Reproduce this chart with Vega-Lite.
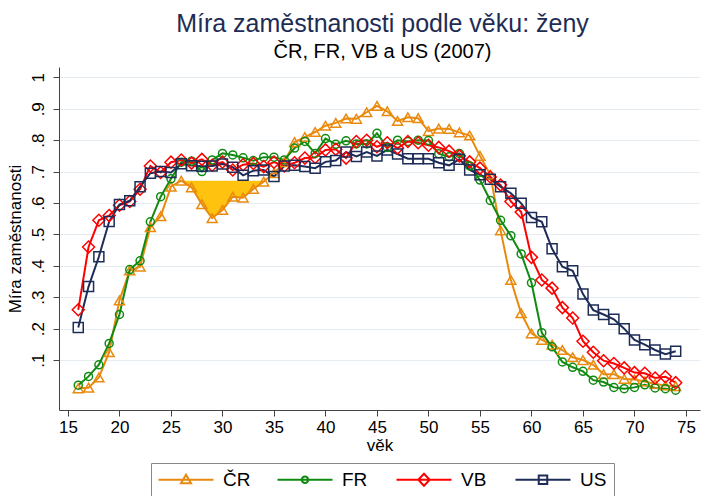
{
  "$schema": "https://vega.github.io/schema/vega-lite/v6.json",
  "width": 641,
  "height": 343,
  "autosize": {"type": "none"},
  "padding": {"left": 59, "top": 67, "right": 6, "bottom": 86},
  "background": "white",
  "config": {"font": "Liberation Sans", "view": {"stroke": null}, "axis": {"labelOverlap": false}},
  "title": {
    "text": "Míra zaměstnanosti podle věku: ženy",
    "subtitle": "ČR, FR, VB a US (2007)",
    "anchor": "middle",
    "font": "Liberation Sans",
    "fontSize": 25,
    "fontWeight": "normal",
    "color": "#1e2c55",
    "subtitleFont": "Liberation Sans",
    "subtitleFontSize": 20,
    "subtitleColor": "black",
    "subtitlePadding": 5,
    "offset": 5,
    "dx": 3
  },
  "datasets": {
    "emp": [
      {"age": 16, "ČR": 0.010, "FR": 0.020, "VB": 0.260, "US": 0.204},
      {"age": 17, "ČR": 0.012, "FR": 0.048, "VB": 0.460, "US": 0.334},
      {"age": 18, "ČR": 0.045, "FR": 0.085, "VB": 0.545, "US": 0.429},
      {"age": 19, "ČR": 0.125, "FR": 0.153, "VB": 0.560, "US": 0.541},
      {"age": 20, "ČR": 0.290, "FR": 0.245, "VB": 0.593, "US": 0.595},
      {"age": 21, "ČR": 0.385, "FR": 0.388, "VB": 0.605, "US": 0.607},
      {"age": 22, "ČR": 0.397, "FR": 0.416, "VB": 0.644, "US": 0.652},
      {"age": 23, "ČR": 0.523, "FR": 0.540, "VB": 0.718, "US": 0.695},
      {"age": 24, "ČR": 0.558, "FR": 0.620, "VB": 0.697, "US": 0.700},
      {"age": 25, "ČR": 0.652, "FR": 0.677, "VB": 0.730, "US": 0.697},
      {"age": 26, "ČR": 0.671, "FR": 0.730, "VB": 0.737, "US": 0.725},
      {"age": 27, "ČR": 0.650, "FR": 0.733, "VB": 0.727, "US": 0.719},
      {"age": 28, "ČR": 0.596, "FR": 0.700, "VB": 0.739, "US": 0.717},
      {"age": 29, "ČR": 0.552, "FR": 0.737, "VB": 0.720, "US": 0.718},
      {"age": 30, "ČR": 0.578, "FR": 0.758, "VB": 0.730, "US": 0.724},
      {"age": 31, "ČR": 0.620, "FR": 0.753, "VB": 0.705, "US": 0.714},
      {"age": 32, "ČR": 0.617, "FR": 0.744, "VB": 0.722, "US": 0.688},
      {"age": 33, "ČR": 0.645, "FR": 0.735, "VB": 0.726, "US": 0.703},
      {"age": 34, "ČR": 0.668, "FR": 0.746, "VB": 0.716, "US": 0.705},
      {"age": 35, "ČR": 0.695, "FR": 0.746, "VB": 0.730, "US": 0.684},
      {"age": 36, "ČR": 0.730, "FR": 0.737, "VB": 0.718, "US": 0.718},
      {"age": 37, "ČR": 0.794, "FR": 0.775, "VB": 0.728, "US": 0.720},
      {"age": 38, "ČR": 0.810, "FR": 0.796, "VB": 0.743, "US": 0.716},
      {"age": 39, "ČR": 0.826, "FR": 0.758, "VB": 0.745, "US": 0.711},
      {"age": 40, "ČR": 0.846, "FR": 0.805, "VB": 0.769, "US": 0.731},
      {"age": 41, "ČR": 0.855, "FR": 0.787, "VB": 0.771, "US": 0.735},
      {"age": 42, "ČR": 0.869, "FR": 0.798, "VB": 0.743, "US": 0.762},
      {"age": 43, "ČR": 0.868, "FR": 0.788, "VB": 0.796, "US": 0.748},
      {"age": 44, "ČR": 0.889, "FR": 0.788, "VB": 0.800, "US": 0.762},
      {"age": 45, "ČR": 0.909, "FR": 0.822, "VB": 0.779, "US": 0.750},
      {"age": 46, "ČR": 0.892, "FR": 0.777, "VB": 0.792, "US": 0.769},
      {"age": 47, "ČR": 0.861, "FR": 0.800, "VB": 0.775, "US": 0.756},
      {"age": 48, "ČR": 0.873, "FR": 0.796, "VB": 0.796, "US": 0.741},
      {"age": 49, "ČR": 0.870, "FR": 0.800, "VB": 0.792, "US": 0.741},
      {"age": 50, "ČR": 0.829, "FR": 0.799, "VB": 0.784, "US": 0.741},
      {"age": 51, "ČR": 0.837, "FR": 0.757, "VB": 0.777, "US": 0.728},
      {"age": 52, "ČR": 0.836, "FR": 0.747, "VB": 0.765, "US": 0.720},
      {"age": 53, "ČR": 0.825, "FR": 0.758, "VB": 0.750, "US": 0.739},
      {"age": 54, "ČR": 0.815, "FR": 0.718, "VB": 0.731, "US": 0.705},
      {"age": 55, "ČR": 0.750, "FR": 0.673, "VB": 0.711, "US": 0.690},
      {"age": 56, "ČR": 0.690, "FR": 0.608, "VB": 0.683, "US": 0.676},
      {"age": 57, "ČR": 0.513, "FR": 0.545, "VB": 0.657, "US": 0.652},
      {"age": 58, "ČR": 0.355, "FR": 0.496, "VB": 0.605, "US": 0.631},
      {"age": 59, "ČR": 0.249, "FR": 0.438, "VB": 0.571, "US": 0.599},
      {"age": 60, "ČR": 0.185, "FR": 0.346, "VB": 0.427, "US": 0.554},
      {"age": 61, "ČR": 0.164, "FR": 0.187, "VB": 0.355, "US": 0.540},
      {"age": 62, "ČR": 0.149, "FR": 0.142, "VB": 0.329, "US": 0.454},
      {"age": 63, "ČR": 0.132, "FR": 0.094, "VB": 0.267, "US": 0.397},
      {"age": 64, "ČR": 0.109, "FR": 0.077, "VB": 0.234, "US": 0.384},
      {"age": 65, "ČR": 0.100, "FR": 0.064, "VB": 0.160, "US": 0.310},
      {"age": 66, "ČR": 0.085, "FR": 0.036, "VB": 0.125, "US": 0.259},
      {"age": 67, "ČR": 0.055, "FR": 0.030, "VB": 0.098, "US": 0.245},
      {"age": 68, "ČR": 0.055, "FR": 0.013, "VB": 0.089, "US": 0.230},
      {"age": 69, "ČR": 0.040, "FR": 0.009, "VB": 0.075, "US": 0.200},
      {"age": 70, "ČR": 0.038, "FR": 0.013, "VB": 0.060, "US": 0.164},
      {"age": 71, "ČR": 0.032, "FR": 0.021, "VB": 0.058, "US": 0.149},
      {"age": 72, "ČR": 0.024, "FR": 0.011, "VB": 0.043, "US": 0.132},
      {"age": 73, "ČR": 0.019, "FR": 0.009, "VB": 0.047, "US": 0.119},
      {"age": 74, "ČR": 0.017, "FR": 0.004, "VB": 0.028, "US": 0.128}
    ]
  },
  "data": {"name": "emp"},
  "transform": [{"fold": ["ČR", "FR", "VB", "US"], "as": ["country", "rate"]}],
  "encoding": {
    "x": {
      "field": "age",
      "type": "quantitative",
      "scale": {"domain": [14.13, 76.36], "nice": false, "zero": false},
      "axis": {
        "title": "věk",
        "values": [15, 20, 25, 30, 35, 40, 45, 50, 55, 60, 65, 70, 75],
        "grid": false,
        "domainColor": "#444444",
        "tickColor": "#444444",
        "tickSize": 6,
        "labelFontSize": 17,
        "labelColor": "black",
        "labelPadding": 3,
        "labelFont": "Liberation Sans",
        "titleFont": "Liberation Sans",
        "titleFontSize": 17,
        "titleFontWeight": "normal",
        "titleColor": "black",
        "titlePadding": 2
      }
    },
    "y": {
      "field": "rate",
      "type": "quantitative",
      "title": "Míra zaměstnanosti",
      "scale": {"domain": [-0.059, 1.033], "nice": false, "zero": false},
      "axis": {
        "values": [0.1, 0.2, 0.3, 0.4, 0.5, 0.6, 0.7, 0.8, 0.9, 1],
        "labelExpr": "datum.value >= 0.99 ? '1' : '.' + round(datum.value * 10)",
        "labelOverlap": false,
        "labelAngle": -90,
        "labelAlign": "center",
        "labelBaseline": "bottom",
        "labelPadding": 6,
        "labelFontSize": 17,
        "labelColor": "black",
        "labelFont": "Liberation Sans",
        "tickSize": 6,
        "tickColor": "#444444",
        "domainColor": "#444444",
        "grid": true,
        "gridColor": "#e6edf2",
        "gridWidth": 1.2,
        "titleFont": "Liberation Sans",
        "titleFontSize": 17,
        "titleFontWeight": "normal",
        "titleColor": "black",
        "titlePadding": 5
      }
    }
  },
  "layer": [
    {
      "transform": [{"filter": "datum.country === 'ČR' && datum.age >= 26 && datum.age <= 34"}],
      "mark": {"type": "area", "color": "#FFC20E", "opacity": 1},
      "encoding": {
        "y2": {"datum": 0.671}
      }
    },
    {
      "mark": {"type": "line", "strokeWidth": 2},
      "encoding": {
        "color": {
          "field": "country",
          "type": "nominal",
          "sort": ["ČR", "FR", "VB", "US"],
          "scale": {"domain": ["ČR", "FR", "VB", "US"], "range": ["#E98A0F", "#118A11", "#FF0000", "#1E2C58"]},
          "legend": {
            "title": null,
            "orient": "none",
            "legendX": 92,
            "legendY": 396,
            "direction": "horizontal",
            "columns": 4,
            "gridAlign": "all",
            "columnPadding": 22,
            "padding": 7,
            "strokeColor": "#888888",
            "fillColor": "white",
            "symbolSize": 100,
            "symbolOffset": 18.5,
            "symbolStrokeWidth": 2,
            "labelOffset": 27.5,
            "labelFontSize": 19,
            "labelFont": "Liberation Sans",
            "labelColor": "black",
            "encode": {
              "symbols": {
                "update": {
                  "shape": {"signal": "datum.value === 'ČR' ? 'M-5.5,0L5.5,0M-1,0.7L0,-1L1,0.7Z' : datum.value === 'FR' ? 'M-5.5,0L5.5,0M0.65,0A0.65,0.65,0,1,1,-0.65,0A0.65,0.65,0,1,1,0.65,0Z' : datum.value === 'VB' ? 'M-5.5,0L5.5,0M-1.15,0L0,-1.2L1.15,0L0,1.2Z' : 'M-5.5,0L5.5,0M-0.85,-0.85L0.85,-0.85L0.85,0.85L-0.85,0.85Z'"},
                  "fill": {"value": "transparent"}
                }
              }
            }
          }
        }
      }
    },
    {
      "transform": [{"filter": "datum.country === 'ČR'"}],
      "mark": {"type": "point", "shape": "triangle-up", "size": 100, "filled": false, "strokeWidth": 1.5, "color": "#E98A0F", "opacity": 1}
    },
    {
      "transform": [{"filter": "datum.country === 'FR'"}],
      "mark": {"type": "point", "shape": "circle", "size": 64, "filled": false, "strokeWidth": 1.5, "color": "#118A11", "opacity": 1}
    },
    {
      "transform": [{"filter": "datum.country === 'VB'"}],
      "mark": {"type": "point", "shape": "diamond", "size": 144, "filled": false, "strokeWidth": 1.5, "color": "#FF0000", "opacity": 1}
    },
    {
      "transform": [{"filter": "datum.country === 'US'"}],
      "mark": {"type": "point", "shape": "square", "size": 100, "filled": false, "strokeWidth": 1.5, "color": "#1E2C58", "opacity": 1}
    }
  ]
}
